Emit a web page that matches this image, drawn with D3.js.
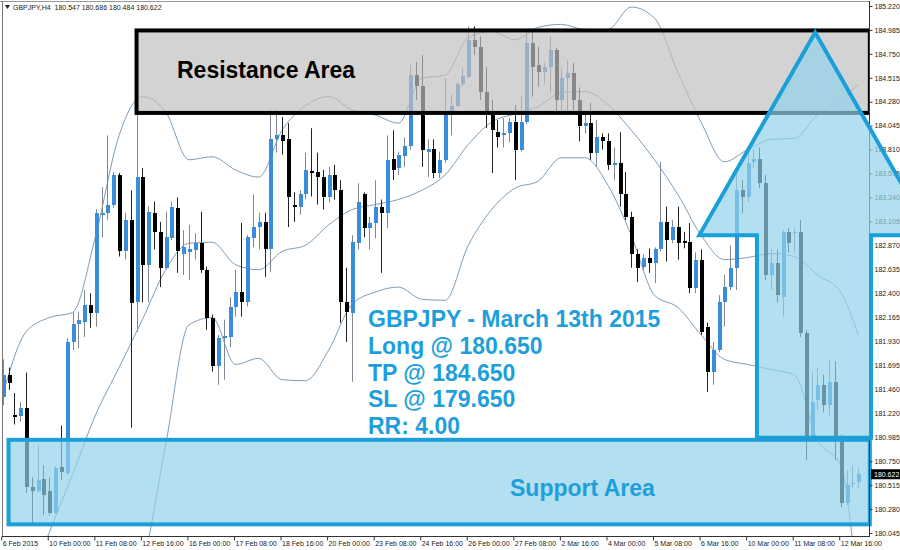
<!DOCTYPE html>
<html><head><meta charset="utf-8">
<script src="https://cdn.jsdelivr.net/npm/d3@7"></script>
<style>body{margin:0;background:#fff}svg{display:block}</style>
</head><body>
<svg id="c" width="900" height="550"></svg>
<script>
const symbolTitle = "GBPJPY,H4  180.547 180.686 180.484 180.622";
const opens = [181.38,181.60,181.20,181.19,181.27,180.50,180.46,180.58,180.46,180.24,
180.69,180.63,181.92,182.10,182.12,182.28,182.21,183.17,183.19,183.27,
183.56,182.81,183.12,182.31,183.54,182.68,183.19,183.00,182.65,182.94,
183.24,182.78,182.80,182.82,182.89,182.63,182.16,181.68,181.96,181.97,
182.26,182.41,182.31,182.94,183.05,183.10,182.83,183.91,183.95,183.91,
183.27,183.25,183.37,183.60,183.59,183.54,183.34,183.56,183.41,182.31,
182.21,182.89,183.37,183.04,183.09,183.25,183.19,183.72,183.63,183.75,
183.85,184.54,184.43,183.79,183.82,183.58,183.71,184.15,184.24,184.45,
184.52,184.89,184.82,184.38,184.15,183.98,183.95,183.97,184.08,183.81,
184.08,184.86,184.64,184.57,184.62,184.79,184.30,184.51,184.56,184.30,
184.04,184.07,183.78,183.93,183.89,183.66,183.68,183.37,183.15,182.78,
182.66,182.75,182.70,182.83,183.10,182.92,183.05,182.91,182.90,182.45,
182.73,182.07,181.63,181.84,182.31,182.46,182.65,183.41,183.34,183.69,
183.72,183.48,182.58,182.70,182.36,183.00,182.99,183.00,182.01,180.99,
181.35,181.50,181.30,181.53,180.99,180.34,180.53,180.547];
const highs = [181.75,181.67,181.42,181.33,181.62,180.59,180.91,180.71,180.59,180.70,
181.10,181.96,182.21,182.22,182.43,182.40,183.22,183.44,183.95,183.59,
183.58,183.19,183.41,184.23,183.63,183.25,183.30,183.10,183.20,183.30,
183.34,183.02,183.07,182.99,183.20,182.66,182.19,181.99,182.14,182.36,
182.63,183.09,182.97,183.37,183.19,183.19,184.20,184.20,184.13,184.07,
183.39,183.41,183.78,184.02,183.78,183.61,183.64,183.66,183.51,182.65,
182.97,183.48,183.39,183.15,183.51,183.32,183.95,184.00,183.79,183.93,
184.64,184.67,184.74,183.91,183.91,183.79,184.51,184.35,184.47,184.61,
185.02,185.02,184.92,184.62,184.30,184.10,184.12,184.12,184.25,184.33,
184.96,184.99,184.82,184.66,184.92,184.81,184.62,184.69,184.66,184.42,
184.15,184.27,184.10,183.97,183.97,183.83,183.98,183.59,183.20,182.83,
182.78,182.84,182.85,183.69,183.25,183.12,183.25,183.00,183.09,182.80,
182.83,182.11,181.92,182.38,182.58,182.87,183.61,183.51,183.79,183.81,
183.83,183.56,182.83,182.83,183.02,183.04,183.04,183.12,182.04,181.62,
181.67,181.60,181.75,181.73,181.01,180.66,180.71,180.686];
const lows = [181.30,181.45,181.11,181.14,180.44,180.14,180.44,180.22,180.22,180.23,
180.57,180.61,181.84,181.86,181.97,182.06,182.07,182.95,183.12,183.24,
182.76,182.73,181.08,182.02,182.31,182.31,182.83,182.46,182.63,182.92,
182.60,182.58,182.53,182.73,182.60,182.04,181.63,181.50,181.55,181.87,
182.17,182.17,182.27,182.85,182.83,182.56,182.61,183.78,183.76,183.05,
183.10,183.17,183.32,183.35,183.27,183.22,183.29,183.32,182.11,181.92,
181.53,182.83,182.95,182.83,182.94,182.60,183.04,183.51,183.56,183.64,
183.81,184.30,183.64,183.54,183.53,183.53,183.68,183.95,184.23,184.43,
184.51,184.74,184.30,184.02,183.58,183.83,183.83,183.88,183.51,183.79,
184.06,184.33,184.43,184.46,184.37,184.17,184.15,184.17,184.18,183.89,
183.97,183.71,183.64,183.81,183.61,183.51,183.25,183.12,182.65,182.51,
182.63,182.60,182.50,182.81,182.71,182.89,182.73,182.84,182.40,182.40,
181.99,181.43,181.50,181.82,182.07,182.43,182.43,183.19,183.29,183.63,
183.43,182.53,182.43,182.31,182.17,182.80,182.80,181.97,180.76,180.98,
181.25,181.23,181.20,180.76,180.30,180.32,180.49,180.484];
const closes = [181.60,181.52,181.18,181.27,180.50,180.46,180.57,180.42,180.24,180.68,
180.64,181.92,182.10,182.14,182.28,182.21,183.19,183.19,183.27,183.56,
182.81,183.12,182.30,183.54,182.68,183.20,183.00,182.65,182.95,183.25,
182.81,182.85,182.83,182.89,182.63,182.16,181.68,181.96,181.98,182.26,
182.41,182.31,182.95,183.05,183.10,182.83,183.91,183.95,183.89,183.34,
183.25,183.37,183.61,183.58,183.54,183.34,183.56,183.41,182.31,182.22,
182.90,183.30,183.04,183.09,183.25,183.19,183.71,183.61,183.76,183.85,
184.54,184.43,183.81,183.82,183.58,183.71,184.15,184.24,184.45,184.53,
184.89,184.82,184.38,184.18,184.00,183.93,183.97,184.08,183.81,184.08,
184.86,184.62,184.57,184.62,184.79,184.30,184.51,184.56,184.30,184.04,
184.07,183.78,183.93,183.89,183.66,183.68,183.37,183.15,182.78,182.65,
182.75,182.70,182.83,183.10,182.92,183.05,182.89,182.89,182.45,182.73,
182.02,181.63,181.84,182.31,182.46,182.65,183.41,183.34,183.68,183.72,
183.48,182.58,182.70,182.38,183.00,182.89,183.00,182.01,180.99,181.33,
181.50,181.30,181.53,180.99,180.34,180.52,180.54,180.622];

const bbIdx = [0,4,8,12,16,20,24,28,32,36,40,44,48,52,56,60,64,68,72,76,80,84,88,92,96,100,104,108,112,116,120,124,128,132,136,140,144,147];
const bbUpper = [181.40,182.02,182.16,182.21,182.97,183.95,184.33,184.18,183.71,183.74,183.61,183.54,184.00,184.24,184.33,184.20,184.15,184.07,184.51,184.54,184.91,184.97,184.89,185.01,185.04,184.99,184.99,185.21,185.10,184.57,184.08,183.69,183.81,183.91,183.92,184.15,184.30,184.45];
const bbMiddle = [179.00,179.49,180.05,180.62,181.21,181.67,182.14,182.63,182.89,182.90,182.68,182.63,182.81,182.87,183.07,183.22,183.27,183.32,183.41,183.56,183.86,184.08,184.16,184.23,184.37,184.38,184.25,184.00,183.71,183.37,182.97,182.73,182.75,182.79,182.76,182.58,182.41,181.99];
const bbLower = [177.82,178.01,178.21,178.41,178.60,178.90,179.68,180.91,182.09,182.16,181.70,181.76,181.55,181.54,181.84,182.29,182.41,182.46,182.34,182.33,182.87,183.22,183.43,183.50,183.73,183.73,183.46,182.97,182.38,182.26,181.99,181.75,181.70,181.65,181.60,180.96,180.71,179.40];

const timeLabelIdx = [0,8,16,24,32,40,48,56,64,72,80,88,96,104,112,120,128,136,144];
const timeLabels = ["6 Feb 2015","10 Feb 00:00","11 Feb 08:00","12 Feb 16:00","16 Feb 00:00","17 Feb 08:00","18 Feb 16:00","20 Feb 00:00","23 Feb 08:00","24 Feb 16:00","26 Feb 00:00","27 Feb 08:00","2 Mar 16:00","4 Mar 00:00","5 Mar 08:00","6 Mar 16:00","10 Mar 00:00","11 Mar 08:00","12 Mar 16:00"];
const priceTicks = ["185.220","184.985","184.750","184.515","184.280","184.045","183.810","183.575","183.340","183.105","182.870","182.635","182.400","182.165","181.930","181.695","181.460","181.220","180.985","180.750","180.515","180.280","180.045"];
const lastPrice = 180.622;

// zones in (bar index, price)
const resistanceBars = [23.0, 149.0];
const resistancePrices = [184.17, 184.98];
const supportBars = [1.0, 149.0];
const supportPrices = [180.13, 180.96];
const arrowBars = [129.6, 129.6, 119.7, 139.6, 159.5, 149.2, 149.2];
const arrowPrices = [180.98, 182.97, 182.97, 184.96, 182.97, 182.97, 180.98];
const infoLines = ["GBPJPY - March 13th 2015","Long @ 180.650","TP @ 184.650","SL @ 179.650","RR: 4.00"];

const svg = d3.select("#c");
const L = 2, R = 869, T = 2, B = 537;
const x = d3.scaleLinear().domain([0, 147]).range([2.7, 858.2]);
const y = d3.scaleLinear().domain([180.045, 185.22]).range([533, 6]);

svg.append("rect").attr("width",900).attr("height",550).attr("fill","#fff");
svg.append("defs").append("clipPath").attr("id","clip")
  .append("rect").attr("x",L).attr("y",T).attr("width",R-L).attr("height",B-T);

const plot = svg.append("g").attr("clip-path","url(#clip)");

// Bollinger bands
const bandLine = d3.line().x((d,i)=>x(bbIdx[i])).y(d=>y(d)).curve(d3.curveMonotoneX);
[bbUpper, bbMiddle, bbLower].forEach(arr=>{
  plot.append("path").attr("d", bandLine(arr)).attr("fill","none")
    .attr("stroke","#7c9db8").attr("stroke-width",1);
});

// Candles
const idx = d3.range(opens.length);
const up = i => closes[i] >= opens[i];
const cx = i => Math.round(x(i)) + 0.5;
plot.selectAll("line.wick").data(idx).join("line").attr("class","wick")
  .attr("x1",cx).attr("x2",cx)
  .attr("y1",i=>y(highs[i])).attr("y2",i=>y(lows[i]))
  .attr("stroke",i=>up(i)?"#7f8892":"#222").attr("stroke-width",1);
plot.selectAll("rect.body").data(idx).join("rect").attr("class","body")
  .attr("x",i=>Math.round(x(i))-1.5)
  .attr("width",4)
  .attr("y",i=>y(Math.max(opens[i],closes[i])))
  .attr("height",i=>Math.max(1, Math.abs(y(opens[i])-y(closes[i]))))
  .attr("fill",i=>up(i)?"#3a8ddc":"#000")
  .attr("shape-rendering","crispEdges");

// Resistance zone
plot.append("rect")
  .attr("x", x(resistanceBars[0])).attr("y", y(resistancePrices[1]))
  .attr("width", x(resistanceBars[1])-x(resistanceBars[0]))
  .attr("height", y(resistancePrices[0])-y(resistancePrices[1]))
  .attr("fill","#c0c0c0").attr("fill-opacity",0.7)
  .attr("stroke","#000").attr("stroke-width",4);

// Support zone
svg.append("rect")
  .attr("x", x(supportBars[0])).attr("y", y(supportPrices[1]))
  .attr("width", x(supportBars[1])-x(supportBars[0]))
  .attr("height", y(supportPrices[0])-y(supportPrices[1]))
  .attr("fill","#93d3ea").attr("fill-opacity",0.7)
  .attr("stroke","#1a9fd9").attr("stroke-width",4);

// Frame
svg.append("line").attr("x1",0).attr("x2",R).attr("y1",1.5).attr("y2",1.5).attr("stroke","#999");
svg.append("line").attr("x1",2.5).attr("x2",2.5).attr("y1",1).attr("y2",B).attr("stroke","#777");
svg.append("line").attr("x1",2).attr("x2",R+0.5).attr("y1",B-0.5).attr("y2",B-0.5).attr("stroke","#333");
svg.append("line").attr("x1",R+0.5).attr("x2",R+0.5).attr("y1",1).attr("y2",B).attr("stroke","#333");

// Y axis
const yAxis = d3.axisRight(y).tickValues(priceTicks.map(Number))
  .tickFormat((d,i)=>priceTicks[i]).tickSize(3).tickPadding(2);
const gy = svg.append("g").attr("transform",`translate(${R+0.5},0)`).call(yAxis);
gy.select(".domain").remove();
gy.selectAll("line").attr("stroke","#333");
gy.selectAll("text").attr("font-family","Liberation Sans, Arial, sans-serif")
  .attr("font-size",7).attr("fill","#222");

// X axis
const xAxis = d3.axisBottom(x).tickValues(timeLabelIdx)
  .tickFormat((d,i)=>timeLabels[i]).tickSize(4).tickPadding(1);
const gx = svg.append("g").attr("transform",`translate(-1.5,${B-0.5})`).call(xAxis);
gx.select(".domain").remove();
gx.selectAll("line").attr("stroke","#333");
gx.selectAll("text").attr("font-family","Liberation Sans, Arial, sans-serif")
  .attr("font-size",7).attr("fill","#222").attr("text-anchor","start").attr("dx",1);

// Last price label
svg.append("rect").attr("x",R+2).attr("y",y(lastPrice)-5).attr("width",30).attr("height",10).attr("fill","#000");
svg.append("text").attr("x",R+5).attr("y",y(lastPrice)+2.5).text(lastPrice.toFixed(3))
  .attr("font-family","Liberation Sans, Arial, sans-serif").attr("font-size",7).attr("fill","#fff");

// Arrow
const arrowPts = arrowBars.map((b,i)=>[x(b), y(arrowPrices[i])]);
svg.append("path").attr("d", d3.line()(arrowPts)+"Z")
  .attr("fill","#93d3ea").attr("fill-opacity",0.7)
  .attr("stroke","#1a9fd9").attr("stroke-width",4).attr("stroke-linejoin","miter");

// Header
svg.append("path").attr("d","M5,5L10,5L7.5,9Z").attr("fill","#222");
svg.append("text").attr("x",13).attr("y",10).text(symbolTitle)
  .attr("font-family","Liberation Sans, Arial, sans-serif").attr("font-size",7).attr("fill","#222")
  .attr("xml:space","preserve").style("white-space","pre");

// Labels
const boldFont = "Liberation Sans, Arial, sans-serif";
svg.append("text").attr("x",177).attr("y",78).text("Resistance Area")
  .attr("font-family",boldFont).attr("font-weight","bold").attr("font-size",23).attr("fill","#000");
svg.append("text").attr("x",510).attr("y",496).text("Support Area")
  .attr("font-family",boldFont).attr("font-weight","bold").attr("font-size",23).attr("fill","#1e9fdb");
const baselines = [327, 353.5, 380.5, 407, 433.5];
infoLines.forEach((t,i)=>{
  svg.append("text").attr("x",368).attr("y",baselines[i]).text(t)
    .attr("font-family",boldFont).attr("font-weight","bold").attr("font-size",23).attr("fill","#1e9fdb");
});
</script>
</body></html>
